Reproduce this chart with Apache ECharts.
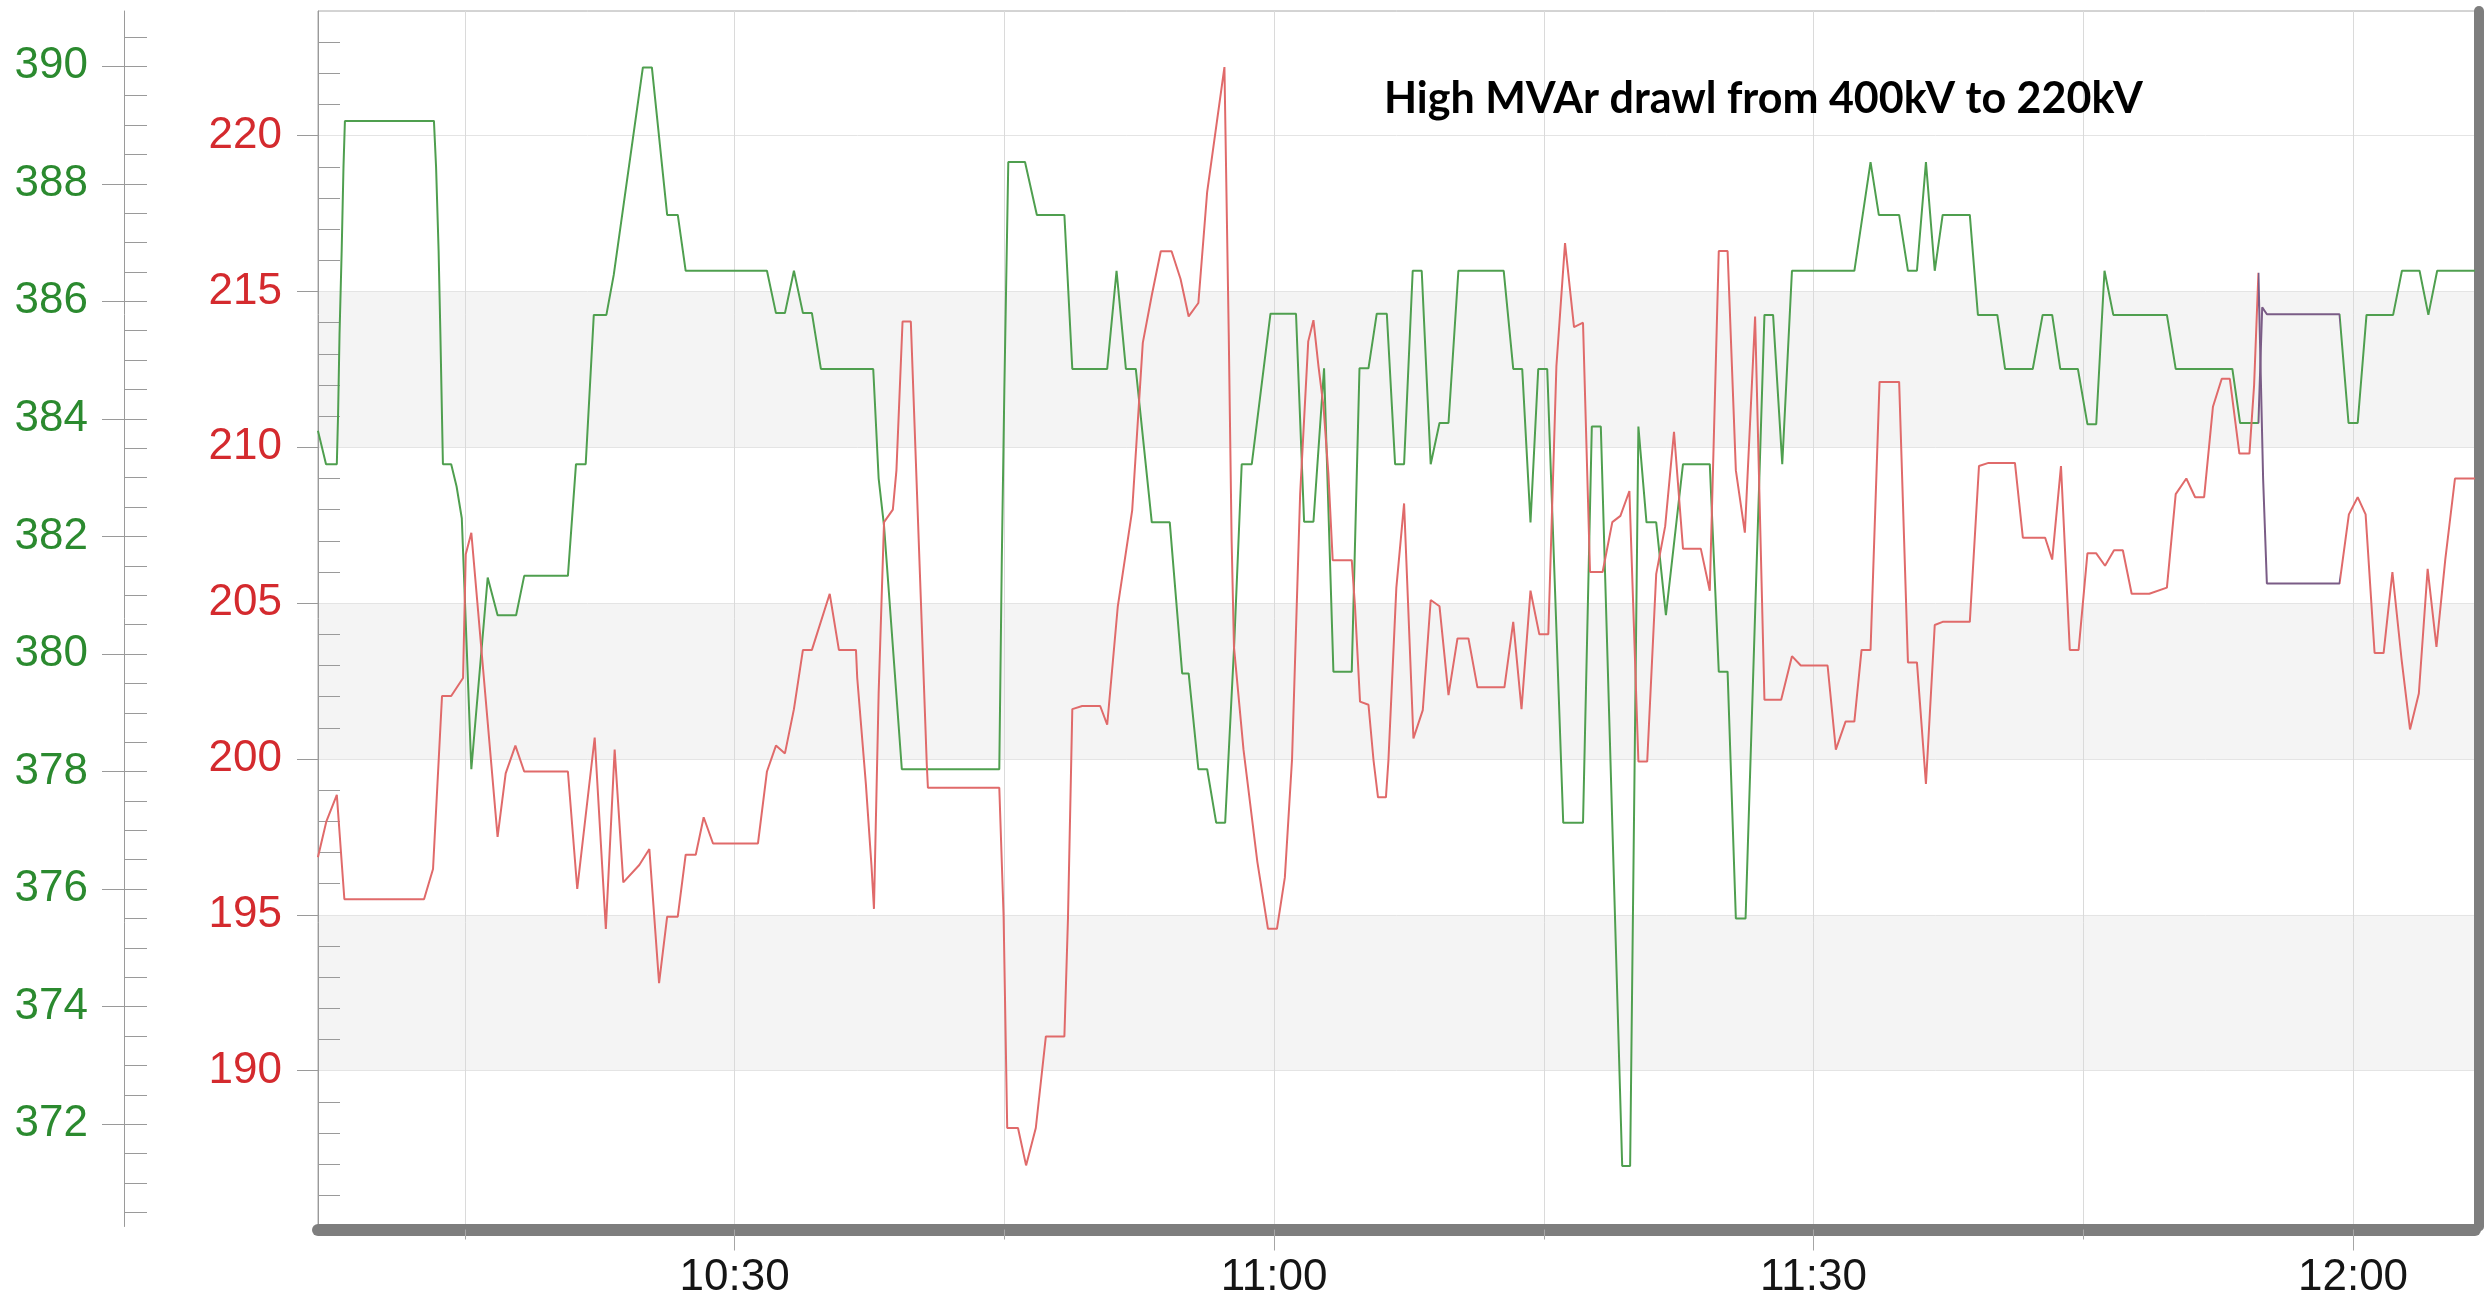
<!DOCTYPE html>
<html>
<head>
<meta charset="utf-8">
<script src="https://cdn.jsdelivr.net/npm/echarts@6/dist/echarts.min.js"></script>
<style>
html,body{margin:0;padding:0;background:#ffffff;}
#chart{width:2484px;height:1304px;}
</style>
</head>
<body>
<div id="chart"></div>
<script>
// ---------------- data ----------------
const chartTitle = 'High MVAr drawl from 400kV to 220kV';
const timeTickLabels = ['10:30', '11:00', '11:30', '12:00'];
const redTickLabels = [190, 195, 200, 205, 210, 215, 220];
const greenTickLabels = [372, 374, 376, 378, 380, 382, 384, 386, 388, 390];
const windowStart = '10:06:50';
const windowEnd = '12:06:47';
// minutes after 10:00 during which both traces are drawn purple
const purpleWindow = [114.7, 119.3];

// green trace (outer axis, 372..390), minutes after 10:00
const greenMinutes = [6.83, 7.28, 7.88, 7.95, 8.03, 8.15, 8.25, 8.33, 13.28, 13.40, 13.54, 13.64, 13.78, 14.24, 14.54, 14.83, 15.36, 16.27, 16.82, 17.85, 18.30, 20.73, 21.18, 21.72, 22.17, 22.87, 23.28, 24.90, 25.40, 26.25, 26.84, 27.28, 31.80, 32.30, 32.80, 33.30, 33.80, 34.30, 34.80, 37.71, 38.01, 38.31, 39.30, 44.72, 44.86, 45.00, 45.22, 46.15, 46.81, 48.34, 48.78, 50.72, 51.24, 51.76, 52.31, 53.20, 54.20, 54.89, 55.25, 55.79, 56.28, 56.78, 57.28, 57.78, 58.20, 58.76, 59.80, 61.22, 61.67, 62.19, 62.78, 63.30, 64.32, 64.75, 65.25, 65.71, 66.27, 66.73, 67.23, 67.71, 68.21, 68.71, 69.20, 69.70, 70.25, 72.77, 73.30, 73.80, 74.26, 74.69, 75.19, 76.08, 77.18, 77.67, 78.17, 79.36, 79.80, 80.26, 80.71, 81.25, 81.79, 82.74, 84.23, 84.73, 85.22, 85.68, 86.22, 87.27, 87.75, 88.26, 88.80, 92.27, 93.17, 93.63, 94.76, 95.25, 95.75, 96.25, 96.74, 97.18, 98.69, 99.14, 100.22, 100.65, 102.19, 102.74, 103.27, 103.72, 104.70, 105.23, 105.72, 106.18, 106.67, 109.65, 110.14, 113.29, 113.72, 114.74, 114.95, 115.21, 119.25, 119.75, 120.26, 120.75, 122.23, 122.72, 123.70, 124.19, 124.68, 126.78];
const greenValues = [383.80, 383.23, 383.23, 384.08, 385.43, 386.86, 388.28, 389.07, 389.07, 388.28, 386.86, 385.43, 383.23, 383.23, 382.85, 382.31, 378.04, 381.30, 380.66, 380.66, 381.33, 381.33, 383.23, 383.23, 385.77, 385.77, 386.45, 389.98, 389.98, 387.47, 387.47, 386.52, 386.52, 385.80, 385.80, 386.52, 385.80, 385.80, 384.85, 384.85, 382.99, 382.18, 378.04, 378.04, 381.63, 384.48, 388.37, 388.37, 387.47, 387.47, 384.85, 384.85, 386.52, 384.85, 384.85, 382.24, 382.24, 379.67, 379.67, 378.04, 378.04, 377.13, 377.13, 380.14, 383.23, 383.23, 385.79, 385.79, 382.25, 382.25, 384.86, 379.70, 379.70, 384.86, 384.86, 385.79, 385.79, 383.23, 383.23, 386.52, 386.52, 383.23, 383.93, 383.93, 386.52, 386.52, 384.85, 384.85, 382.24, 384.85, 384.85, 377.13, 377.13, 383.87, 383.87, 371.29, 371.29, 383.87, 382.24, 382.24, 380.66, 383.23, 383.23, 379.70, 379.70, 375.50, 375.50, 385.77, 385.77, 383.23, 386.52, 386.52, 388.37, 387.47, 387.47, 386.52, 386.52, 388.37, 386.52, 387.47, 387.47, 385.77, 385.77, 384.85, 384.85, 385.77, 385.77, 384.85, 384.85, 383.91, 383.91, 386.52, 385.77, 385.77, 384.85, 384.85, 383.93, 383.93, 385.90, 385.78, 385.78, 383.93, 383.93, 385.77, 385.77, 386.52, 386.52, 385.77, 386.52, 386.52];

// red trace (inner axis, 190..220), minutes after 10:00
const redMinutes = [6.83, 7.30, 7.88, 8.30, 12.73, 13.23, 13.73, 14.24, 14.90, 15.05, 15.36, 16.82, 17.27, 17.81, 18.30, 20.73, 21.25, 22.22, 22.84, 23.33, 23.81, 24.70, 25.26, 25.80, 26.25, 26.84, 27.28, 27.84, 28.28, 28.80, 31.30, 31.80, 32.30, 32.80, 33.30, 33.80, 34.30, 35.29, 35.80, 36.75, 36.82, 37.30, 37.61, 37.75, 38.01, 38.31, 38.80, 39.00, 39.34, 39.80, 40.69, 40.75, 44.72, 44.96, 45.16, 45.76, 46.21, 46.75, 47.31, 48.34, 48.54, 48.78, 49.33, 50.33, 50.72, 51.31, 52.11, 52.70, 53.20, 53.70, 54.30, 54.80, 55.25, 55.79, 56.28, 57.24, 57.48, 57.64, 57.77, 58.30, 59.07, 59.66, 60.16, 60.60, 61.00, 61.45, 61.90, 62.19, 62.47, 62.75, 63.02, 63.26, 64.32, 64.50, 64.78, 65.25, 65.53, 65.78, 66.22, 66.36, 66.80, 67.23, 67.75, 68.27, 68.71, 69.20, 69.70, 70.20, 70.81, 71.31, 72.81, 73.30, 73.76, 74.26, 74.75, 75.25, 75.70, 76.18, 76.68, 77.18, 77.57, 78.27, 78.81, 79.26, 79.76, 80.26, 80.75, 81.25, 81.75, 82.24, 82.74, 83.73, 84.23, 84.73, 85.22, 85.68, 86.18, 86.75, 87.27, 88.20, 88.80, 89.29, 90.78, 91.24, 91.78, 92.27, 92.67, 93.17, 93.67, 94.76, 95.25, 95.75, 96.25, 96.74, 97.18, 98.69, 99.20, 99.73, 101.20, 101.64, 102.88, 103.27, 103.76, 104.25, 104.74, 105.23, 105.72, 106.21, 106.71, 107.20, 107.69, 108.67, 109.65, 110.14, 110.73, 111.22, 111.72, 112.21, 112.70, 113.15, 113.68, 114.24, 114.50, 114.74, 115.00, 115.21, 119.25, 119.77, 120.26, 120.70, 121.20, 121.70, 122.19, 122.70, 123.17, 123.66, 124.15, 124.64, 125.13, 125.67, 126.78];
const redValues = [196.85, 198.00, 198.85, 195.50, 195.50, 196.47, 202.02, 202.02, 202.60, 206.57, 207.26, 197.50, 199.54, 200.43, 199.60, 199.60, 195.83, 200.69, 194.55, 200.30, 196.04, 196.60, 197.11, 192.81, 194.94, 194.94, 196.93, 196.93, 198.13, 197.29, 197.29, 199.60, 200.43, 200.18, 201.60, 203.50, 203.50, 205.30, 203.50, 203.50, 202.60, 199.20, 196.60, 195.19, 202.10, 207.60, 208.00, 209.26, 214.04, 214.04, 199.80, 199.08, 199.08, 194.94, 188.16, 188.16, 186.96, 188.16, 191.10, 191.10, 194.90, 201.60, 201.70, 201.70, 201.10, 204.90, 207.98, 213.35, 214.88, 216.29, 216.29, 215.40, 214.20, 214.63, 218.20, 222.20, 213.60, 207.00, 203.60, 200.30, 196.70, 194.55, 194.55, 196.20, 200.00, 208.50, 213.40, 214.08, 212.60, 211.30, 209.16, 206.38, 206.38, 204.90, 201.84, 201.74, 199.96, 198.77, 198.77, 199.96, 205.50, 208.20, 200.66, 201.57, 205.10, 204.90, 202.05, 203.87, 203.87, 202.30, 202.30, 204.40, 201.60, 205.40, 204.00, 204.00, 212.60, 216.55, 213.86, 214.00, 206.00, 206.00, 207.60, 207.80, 208.60, 199.92, 199.92, 205.93, 207.47, 210.50, 206.75, 206.75, 205.40, 216.30, 216.30, 209.26, 207.26, 214.20, 201.90, 201.90, 203.30, 203.00, 203.00, 200.30, 201.20, 201.20, 203.50, 203.50, 212.10, 212.10, 203.10, 203.10, 199.20, 204.30, 204.40, 204.40, 209.40, 209.50, 209.50, 207.10, 207.10, 206.40, 209.40, 203.50, 203.50, 206.60, 206.60, 206.20, 206.70, 206.70, 205.30, 205.30, 205.50, 208.50, 209.00, 208.40, 208.40, 211.30, 212.20, 212.20, 209.80, 209.80, 212.00, 215.60, 209.00, 205.63, 205.63, 207.85, 208.40, 207.85, 203.40, 203.40, 206.00, 203.20, 200.95, 202.10, 206.10, 203.60, 206.40, 209.00, 209.00];

// ---------------- helpers ----------------
function clockToMinutes(s) {
  const p = s.split(':').map(Number);
  return p[0] * 60 + p[1] + (p[2] || 0) / 60;
}
function minutesToClock(v) {
  const m = Math.round(v);
  const h = Math.floor(m / 60);
  const mm = m % 60;
  return h + ':' + (mm < 10 ? '0' : '') + mm;
}
const base = clockToMinutes('10:00');
const xMin = clockToMinutes(windowStart);
const xMax = clockToMinutes(windowEnd);
const timeTickValues = timeTickLabels.map(clockToMinutes);
const greenData = greenMinutes.map((m, i) => [base + m, greenValues[i]]);
const redData = redMinutes.map((m, i) => [base + m, redValues[i]]);

const GREEN = '#4f9f4f';
const RED = '#e06a6a';
const PURPLE = '#7a5c86';
const AXIS = '#9a9a9a';
const labelFont = "'Liberation Sans', Arial, sans-serif";

const chart = echarts.init(document.getElementById('chart'), null, {renderer: 'canvas'});
chart.setOption({
  animation: false,
  backgroundColor: '#ffffff',
  title: {
    text: chartTitle,
    left: 1384,
    top: 78,
    padding: 0,
    textStyle: {fontFamily: 'Lato', fontWeight: 'bold', fontSize: 43, color: '#000000'}
  },
  grid: {
    left: 318, right: 9, top: 11, bottom: 77.5,
    show: true, borderColor: '#a8a8a8', borderWidth: 1, backgroundColor: 'transparent'
  },
  xAxis: [{
    type: 'value',
    min: xMin, max: xMax,
    splitNumber: 4,
    offset: 3,
    axisLine: {show: true, onZero: false, lineStyle: {color: '#7e7e7e', width: 12}},
    axisTick: {show: true, customValues: timeTickValues, length: 21, lineStyle: {color: '#a6a6a6', width: 1}},
    minorTick: {show: true, splitNumber: 2, length: 10, lineStyle: {color: '#a6a6a6', width: 1}},
    axisLabel: {
      customValues: timeTickValues,
      formatter: v => minutesToClock(v),
      margin: 26,
      fontSize: 44,
      fontFamily: "'Liberation Sans Narrow', 'Liberation Sans', Arial, sans-serif",
      color: '#151515'
    },
    splitLine: {show: true, lineStyle: {color: '#dadada', width: 1}},
    minorSplitLine: {show: true, lineStyle: {color: '#dadada', width: 1}}
  }],
  yAxis: [{
    // red scale, drawn as the plot's left edge
    type: 'value', position: 'left', offset: 0,
    min: 185, max: 224, interval: 5,
    axisLine: {show: true, lineStyle: {color: AXIS, width: 1}},
    axisTick: {show: true, customValues: redTickLabels, length: 21, lineStyle: {color: AXIS}},
    minorTick: {show: true, splitNumber: 5, length: -22, lineStyle: {color: AXIS}},
    axisLabel: {customValues: redTickLabels, margin: 36, fontSize: 44, fontFamily: labelFont, color: '#d42a2e'},
    splitLine: {show: true, lineStyle: {color: '#e4e4e4', width: 1}},
    splitArea: {show: true, areaStyle: {color: ['#f4f4f4', '#ffffff']}}
  }, {
    // green scale, outer axis
    type: 'value', position: 'left', offset: 194,
    min: 370.26, max: 390.94, splitNumber: 10,
    axisLine: {show: true, lineStyle: {color: AXIS, width: 1}},
    axisTick: {show: true, customValues: greenTickLabels, length: 22, lineStyle: {color: AXIS}},
    minorTick: {show: true, splitNumber: 4, length: -23, lineStyle: {color: AXIS}},
    axisLabel: {customValues: greenTickLabels, margin: 36, fontSize: 44, fontFamily: labelFont, color: '#2b8a2f'},
    splitLine: {show: false}
  }, {
    // right-hand half of the green axis' major ticks
    type: 'value', position: 'left', offset: 194,
    min: 370.26, max: 390.94, splitNumber: 10,
    axisLine: {show: false},
    axisTick: {show: true, inside: true, customValues: greenTickLabels, length: 23, lineStyle: {color: AXIS}},
    axisLabel: {show: false},
    splitLine: {show: false}
  }, {
    // frame shadow on the right
    type: 'value', position: 'right', offset: 4,
    min: 0, max: 1,
    axisLine: {show: true, lineStyle: {color: '#7e7e7e', width: 10}},
    axisTick: {show: false}, axisLabel: {show: false}, splitLine: {show: false}
  }],
  visualMap: [{
    show: false, type: 'piecewise', seriesIndex: 0, dimension: 0,
    pieces: [
      {lt: base + purpleWindow[0], color: GREEN},
      {gte: base + purpleWindow[0], lte: base + purpleWindow[1], color: PURPLE},
      {gt: base + purpleWindow[1], color: GREEN}
    ]
  }, {
    show: false, type: 'piecewise', seriesIndex: 1, dimension: 0,
    pieces: [
      {lt: base + purpleWindow[0], color: RED},
      {gte: base + purpleWindow[0], lte: base + purpleWindow[1], color: PURPLE},
      {gt: base + purpleWindow[1], color: RED}
    ]
  }],
  series: [{
    name: '400kV MVAr', type: 'line', xAxisIndex: 0, yAxisIndex: 1,
    data: greenData, showSymbol: false, symbol: 'none',
    lineStyle: {width: 2}
  }, {
    name: '220kV MVAr', type: 'line', xAxisIndex: 0, yAxisIndex: 0,
    data: redData, showSymbol: false, symbol: 'none',
    lineStyle: {width: 2}
  }]
});
</script>
</body>
</html>
